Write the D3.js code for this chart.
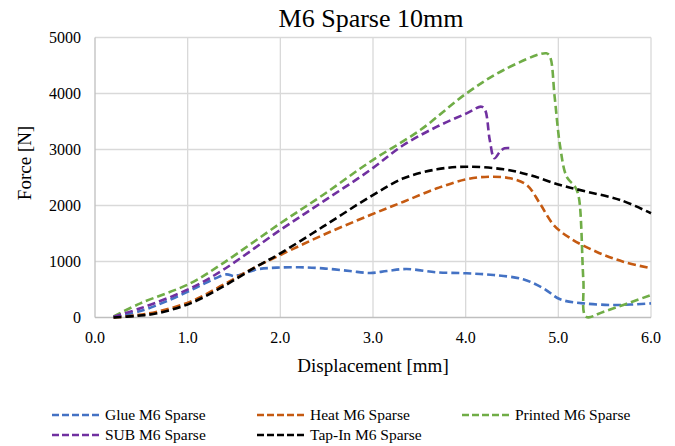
<!DOCTYPE html>
<html><head><meta charset="utf-8">
<script src="https://cdn.jsdelivr.net/npm/d3@7"></script>
<style>body{margin:0;background:#fff}svg{display:block}text{font-family:"Liberation Serif","Times New Roman",serif;fill:#000}</style>
</head><body>
<svg id="c" width="675" height="446"></svg>
<script>
const xTicks = [0,1,2,3,4,5,6];
const yTicks = [0,1000,2000,3000,4000,5000];
const seriesNames = ["Glue M6 Sparse","Heat M6 Sparse","Printed M6 Sparse","SUB M6 Sparse","Tap-In M6 Sparse"];
const seriesColors = ["#4472C4","#C55A11","#70AD47","#7030A0","#000000"];
const glue = [[0.2,0],[0.5,120],[0.8,310],[1.1,540],[1.3,700],[1.42,770],[1.5,740],[1.56,760],[1.75,860],[1.96,890],[2.2,896],[2.46,878],[2.75,830],[2.97,795],[3.15,830],[3.36,866],[3.69,807],[4.01,789],[4.3,759],[4.62,682],[4.84,521],[5.02,325],[5.27,253],[5.63,223],[6.0,253]];
const heat = [[0.2,0],[0.45,40],[0.67,104],[1.03,282],[1.38,580],[1.74,907],[2.0,1116],[2.46,1473],[2.97,1830],[3.33,2068],[3.69,2307],[4.01,2468],[4.26,2514],[4.48,2486],[4.66,2366],[4.8,2039],[4.95,1652],[5.13,1414],[5.41,1175],[5.7,996],[6.0,879]];
const printed = [[0.2,20],[0.49,253],[1.03,611],[1.38,968],[2.0,1682],[2.46,2188],[2.97,2782],[3.51,3348],[4.01,4004],[4.41,4420],[4.87,4718],[4.91,4657],[4.96,3943],[5.02,3050],[5.09,2514],[5.18,2336],[5.22,2157],[5.27,670],[5.30,14],[5.49,104],[6.0,402]];
const sub = [[0.2,15],[0.49,164],[1.03,521],[1.38,848],[2.0,1563],[2.46,2068],[2.97,2634],[3.33,3080],[3.69,3407],[4.01,3646],[4.17,3765],[4.21,3705],[4.26,3170],[4.31,2843],[4.37,2961],[4.42,3021],[4.51,3021]];
const tapin = [[0.2,0],[0.45,30],[0.67,75],[1.03,253],[1.38,550],[1.74,907],[2.0,1146],[2.46,1621],[2.97,2157],[3.33,2486],[3.69,2646],[4.01,2693],[4.41,2646],[4.69,2545],[5.02,2366],[5.31,2246],[5.67,2098],[6.0,1861]];
const allSeries = [glue,heat,printed,sub,tapin];

const svg = d3.select("#c");
const x = d3.scaleLinear().domain([0,6]).range([95,651]);
const y = d3.scaleLinear().domain([0,5000]).range([317.5,37.5]);

svg.append("g").selectAll("line").data(xTicks.slice(1)).join("line")
  .attr("x1",d=>x(d)).attr("x2",d=>x(d)).attr("y1",y(0)).attr("y2",y(5000))
  .attr("stroke","#d9d9d9").attr("stroke-width",1.3);
svg.append("g").selectAll("line").data(yTicks.slice(1)).join("line")
  .attr("x1",x(0)).attr("x2",x(6)).attr("y1",d=>y(d)).attr("y2",d=>y(d))
  .attr("stroke","#d9d9d9").attr("stroke-width",1.3);
svg.append("line").attr("x1",x(0)).attr("x2",x(0)).attr("y1",y(0)).attr("y2",y(5000)).attr("stroke","#bfbfbf").attr("stroke-width",1.3);
svg.append("line").attr("x1",x(0)).attr("x2",x(6)).attr("y1",y(0)).attr("y2",y(0)).attr("stroke","#bfbfbf").attr("stroke-width",1.3);

svg.append("g").selectAll("text").data(yTicks).join("text")
  .attr("x",81).attr("y",d=>y(d)+5.5).attr("text-anchor","end")
  .attr("font-size",16).text(d=>d);
svg.append("g").selectAll("text").data(xTicks).join("text")
  .attr("x",d=>x(d)).attr("y",343).attr("text-anchor","middle")
  .attr("font-size",16).text(d=>d.toFixed(1));

svg.append("text").attr("x",371).attr("y",27).attr("text-anchor","middle")
  .attr("font-size",26).text("M6 Sparse 10mm");
svg.append("text").attr("transform",`translate(31,163) rotate(-90)`).attr("text-anchor","middle")
  .attr("font-size",19).text("Force [N]");
svg.append("text").attr("x",373).attr("y",372).attr("text-anchor","middle")
  .attr("font-size",19).text("Displacement [mm]");

const lineC = d3.line().x(d=>x(d[0])).y(d=>y(d[1])).curve(d3.curveCatmullRom.alpha(0.5));
allSeries.forEach((s,i)=>{
  svg.append("path").attr("d",lineC(s)).attr("fill","none")
    .attr("stroke",seriesColors[i]).attr("stroke-width",2.6)
    .attr("stroke-dasharray","8,4");
});

const legPos = [[52,415],[257,415],[462,415],[52,435],[257,435]];
seriesNames.forEach((n,i)=>{
  const [lx,ly] = legPos[i];
  svg.append("line").attr("x1",lx).attr("x2",lx+50).attr("y1",ly).attr("y2",ly)
    .attr("stroke",seriesColors[i]).attr("stroke-width",2.6).attr("stroke-dasharray","7,3");
  svg.append("text").attr("x",lx+53).attr("y",ly+5)
    .attr("font-size",15.5).text(n);
});
</script>
</body></html>
